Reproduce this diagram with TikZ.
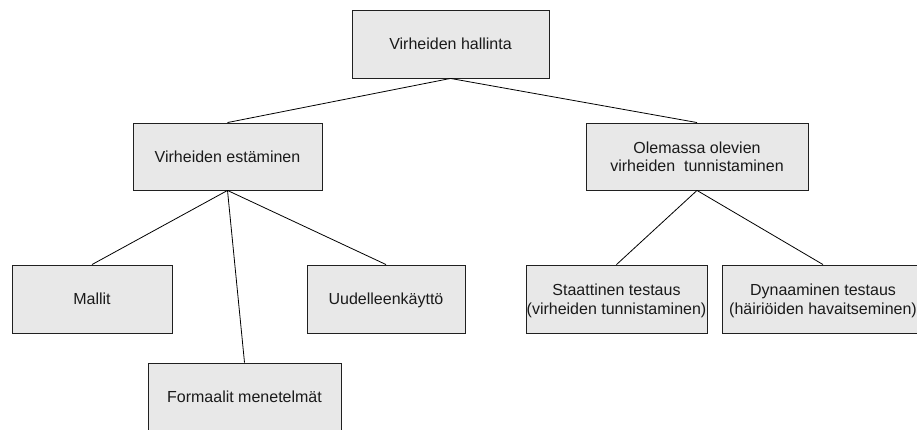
\documentclass[tikz,border=0pt]{standalone}
\usepackage{fontspec}
\setmainfont{Liberation Sans}
\definecolor{boxfill}{HTML}{E8E8E8}
\definecolor{boxline}{HTML}{202020}
\definecolor{textcol}{HTML}{1A1A1A}
\begin{document}
\begin{tikzpicture}[x=1pt,y=-1pt,
  box/.style={draw=boxline, fill=boxfill, line width=0.9pt, rectangle,
    inner sep=0pt, align=center, text=textcol, text depth=0pt,
    font=\fontsize{16}{18.5}\selectfont},
  link/.style={draw=black, line width=0.8pt}]
\useasboundingbox (0,0) rectangle (917,430);
\clip (0,0) rectangle (917,430);
% boxes
\node[box, minimum width=197pt, minimum height=68pt] (root) at (450.5,44) {Virheiden hallinta};
\node[box, minimum width=189pt, minimum height=67pt] (est) at (227.5,156.5) {Virheiden estäminen};
\node[box, minimum width=222pt, minimum height=67pt] (ole) at (697,156.5) {Olemassa olevien\\virheiden\ \ tunnistaminen};
\node[box, minimum width=160pt, minimum height=68pt] (mal) at (92,299) {Mallit};
\node[box, minimum width=158pt, minimum height=68pt] (uud) at (386,299) {Uudelleenkäyttö};
\node[box, minimum width=193pt, minimum height=68pt] (for) at (244.5,397) {Formaalit menetelmät};
\node[box, minimum width=181pt, minimum height=68pt] (sta) at (616.5,299) {Staattinen testaus\\(virheiden tunnistaminen)};
\node[box, minimum width=202pt, minimum height=68pt] (dyn) at (823,299) {Dynaaminen testaus\\(häiriöiden havaitseminen)};
% connectors
\draw[link] (root.south) -- (est.north);
\draw[link] (root.south) -- (ole.north);
\draw[link] (est.south) -- (mal.north);
\draw[link] (est.south) -- (for.north);
\draw[link] (est.south) -- (uud.north);
\draw[link] (ole.south) -- (sta.north);
\draw[link] (ole.south) -- (dyn.north);
\end{tikzpicture}
\end{document}
